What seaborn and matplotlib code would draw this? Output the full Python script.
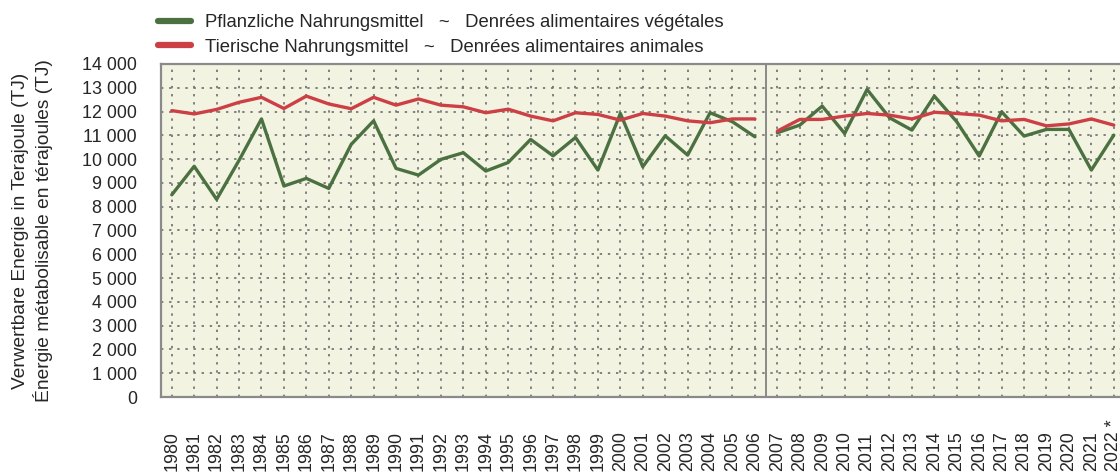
import matplotlib
matplotlib.use("Agg")
import matplotlib.pyplot as plt
import seaborn as sns
import pandas as pd
import numpy as np
from matplotlib.lines import Line2D

years = [str(y) for y in range(1980, 2022)] + ["2022 *"]
plant = [8500, 9700, 8310, 9950, 11690, 8870, 9190, 8770, 10620, 11610, 9610, 9330,
         9990, 10270, 9500, 9860, 10830, 10140, 10910, 9540, 11920, 9680, 10980, 10170,
         11950, 11570, 10940,
         11110, 11430, 12230, 11080, 12930, 11740, 11220, 12650, 11570, 10130, 11990,
         10970, 11250, 11250, 9540, 11010]
animal = [12040, 11900, 12090, 12390, 12600, 12130, 12650, 12320, 12120, 12600, 12270,
          12530, 12270, 12200, 11950, 12100, 11810, 11610, 11950, 11880, 11640, 11920,
          11810, 11610, 11530, 11690, 11690,
          11180, 11670, 11670, 11810, 11920, 11850, 11690, 11970, 11920, 11850, 11610,
          11670, 11400, 11480, 11690, 11430]
period = [0] * 27 + [1] * 16
lab_plant = "Pflanzliche Nahrungsmittel   ~   Denrées alimentaires végétales"
lab_animal = "Tierische Nahrungsmittel   ~   Denrées alimentaires animales"
yticks = list(range(0, 14001, 1000))

GREEN = "#4b7141"
RED = "#cc3f45"
GRAY = "#8a8a8a"

sns.set_style("white")
plt.rcParams["font.family"] = ["Liberation Sans", "DejaVu Sans"]

idx = np.arange(len(years))
df = pd.concat([
    pd.DataFrame({"x": idx, "v": plant, "s": lab_plant, "p": period}),
    pd.DataFrame({"x": idx, "v": animal, "s": lab_animal, "p": period}),
])

fig = plt.figure(figsize=(11.2, 4.74), dpi=100)
ax = fig.add_axes([161 / 1120, 77 / 474, (1125 - 161) / 1120, 333 / 474])
ax.set_facecolor("#f3f3e2")

sns.lineplot(data=df, x="x", y="v", hue="s", units="p", estimator=None,
             palette={lab_plant: GREEN, lab_animal: RED}, linewidth=2.4,
             ax=ax, legend=False, zorder=3)

ax.set_xlim(-0.48, len(years) - 0.5)
ax.set_ylim(0, 14000)
ax.set_xticks(idx)
ax.set_yticks(yticks)
ax.set_yticklabels([f"{t:,}".replace(",", " ") for t in yticks])

ax.grid(True, color="#777777", linestyle=(0, (1.3, 3.2)), linewidth=1.3)
ax.set_axisbelow(True)
ax.axvline(26.5, color=GRAY, linewidth=1.4, zorder=2)

for side in ["top", "left", "bottom"]:
    ax.spines[side].set_color(GRAY)
    ax.spines[side].set_linewidth(1.6)
ax.spines["right"].set_visible(False)

ax.tick_params(axis="y", length=9.4, width=1.2, color=GRAY, pad=8, labelsize=12.9)
ax.tick_params(axis="x", length=8.6, width=1.2, color=GRAY, pad=44.5, labelsize=12.9)
ax.set_xticklabels(years, rotation=90, va="bottom", ha="center")

ax.set_xlabel("")
ax.set_ylabel("Verwertbare Energie in Terajoule (TJ)\nÉnergie métabolisable en térajoules (TJ)",
              fontsize=13.8, linespacing=1.2, labelpad=21)

handles = [Line2D([], [], color=GREEN, lw=4.5), Line2D([], [], color=RED, lw=4.5)]
fig.legend(handles, [lab_plant, lab_animal], loc="upper left",
           bbox_to_anchor=(158 / 1120, 1 - 14 / 474), frameon=False, fontsize=13.3,
           handlelength=1.8, handletextpad=0.75, labelspacing=0.42, borderpad=0,
           borderaxespad=0)

fig.savefig("out.png", dpi=100)
